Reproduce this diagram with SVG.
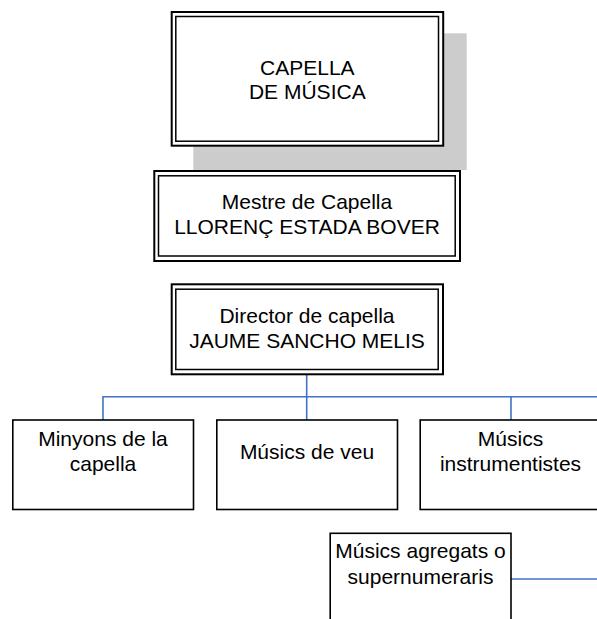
<svg xmlns="http://www.w3.org/2000/svg" width="597" height="619" viewBox="0 0 597 619">
<style>
text{font-family:"Liberation Sans",Arial,sans-serif;font-size:21px;fill:#000;text-anchor:middle}
.o{fill:#fff;stroke:#000;stroke-width:2}
.i{fill:none;stroke:#000;stroke-width:1.5}
.b{fill:#fff;stroke:#000;stroke-width:1.6}
.c{fill:none;stroke:#4472C4;stroke-width:1.6}
</style>
<rect width="597" height="619" fill="#fff"/>
<g id="connectors">
<path class="c" d="M306.7 374.3V420M103 420V396.7H597M511 396.7V420M511 579H597"/>
</g>
<g id="capella">
<rect x="193.3" y="33.3" width="273.4" height="136.7" fill="#cccccc"/>
<rect class="o" x="171.7" y="12" width="271.5" height="133.7"/>
<rect class="i" x="175.8" y="16.5" width="262.7" height="124.7"/>
<text x="307.3" y="75">CAPELLA</text>
<text x="307.3" y="99">DE MÚSICA</text>
</g>
<g id="mestre">
<rect class="o" x="154.3" y="171" width="305.7" height="90"/>
<rect class="i" x="158.5" y="175.8" width="296.7" height="80.2"/>
<text x="307" y="209">Mestre de Capella</text>
<text x="307" y="234">LLORENÇ ESTADA BOVER</text>
</g>
<g id="director">
<rect class="o" x="171.7" y="284.3" width="271.3" height="90"/>
<rect class="i" x="175.8" y="289.2" width="262.4" height="80.3"/>
<text x="307" y="323.3">Director de capella</text>
<text x="307" y="348.3">JAUME SANCHO MELIS</text>
</g>
<g id="minyons">
<rect class="b" x="12.8" y="420" width="180.7" height="89.5"/>
<text x="103" y="445.7">Minyons de la</text>
<text x="103" y="470.7">capella</text>
</g>
<g id="veu">
<rect class="b" x="216.8" y="420" width="180.7" height="89.5"/>
<text x="307" y="459">Músics de veu</text>
</g>
<g id="instrumentistes">
<rect class="b" x="420.2" y="420" width="181" height="89.5"/>
<text x="510.5" y="445.5">Músics</text>
<text x="510.5" y="471">instrumentistes</text>
</g>
<g id="supernumeraris">
<rect class="b" x="330.2" y="533.3" width="180.8" height="100"/>
<text x="420.5" y="558.3">Músics agregats o</text>
<text x="420.5" y="584">supernumeraris</text>
</g>
</svg>
